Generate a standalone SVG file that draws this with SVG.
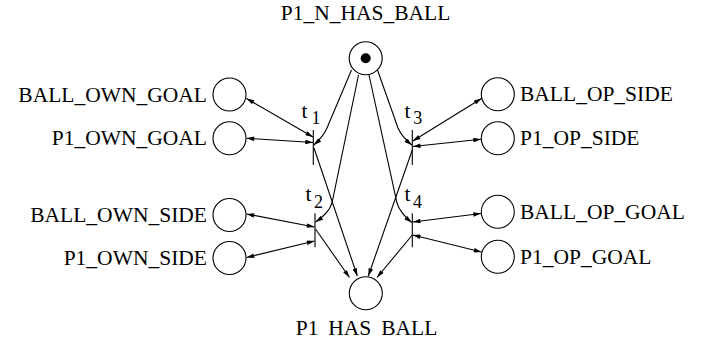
<svg xmlns="http://www.w3.org/2000/svg" width="708" height="352" viewBox="0 0 708 352">
<style>
text{font-family:"Liberation Serif","Times New Roman",serif;font-size:21.5px;fill:#000}
.sub{font-size:18px}
.pl{fill:#fff;stroke:#000;stroke-width:1.1}
.bar{stroke:#000;stroke-width:1.1}
.arc{fill:none;stroke:#000;stroke-width:1.1}
.l{text-anchor:end}
.c{text-anchor:middle}
</style>
<defs>
<marker id="ah" viewBox="0 0 10 6" refX="10" refY="3" markerWidth="9" markerHeight="4.6" markerUnits="userSpaceOnUse" orient="auto-start-reverse">
<path d="M0,0 L10,3 L0,6 z" fill="#000"/>
</marker>
</defs>
<rect width="708" height="352" fill="#fff"/>
<g id="connectors">
<path class="arc" marker-end="url(#ah)" d="M351.5 70 L327 128 Q323 137 313.8 145"/>
<path class="arc" marker-end="url(#ah)" d="M358.5 75 L332 203 Q329 213 315.5 222"/>
<path class="arc" marker-end="url(#ah)" d="M377.5 70 L398 128 Q402 137 411.8 145"/>
<path class="arc" marker-end="url(#ah)" d="M369 75 L397 203 Q400 213 411.8 222.5"/>
<path class="arc" marker-end="url(#ah)" d="M314 148 L357.3 276"/>
<path class="arc" marker-end="url(#ah)" d="M315.5 229 L349.5 277.5"/>
<path class="arc" marker-end="url(#ah)" d="M412.3 150 L368.3 276"/>
<path class="arc" marker-end="url(#ah)" d="M412.3 235 L377 277.5"/>
<path class="arc" marker-start="url(#ah)" marker-end="url(#ah)" d="M246.5 98.5 L313 137"/>
<path class="arc" marker-start="url(#ah)" marker-end="url(#ah)" d="M246.5 138.3 L313 142.5"/>
<path class="arc" marker-start="url(#ah)" marker-end="url(#ah)" d="M246.5 214 L314.5 227"/>
<path class="arc" marker-start="url(#ah)" marker-end="url(#ah)" d="M246.5 257.5 L314.5 241"/>
<path class="arc" marker-start="url(#ah)" marker-end="url(#ah)" d="M481.5 98.5 L412.8 141"/>
<path class="arc" marker-start="url(#ah)" marker-end="url(#ah)" d="M481 139.3 L412.8 146.5"/>
<path class="arc" marker-start="url(#ah)" marker-end="url(#ah)" d="M481 213.5 L412.8 222"/>
<path class="arc" marker-start="url(#ah)" marker-end="url(#ah)" d="M481.5 252 L412.8 235"/>
</g>
<g id="P1_N_HAS_BALL">
<circle class="pl" cx="365.7" cy="58.3" r="16.5"/>
<circle cx="365.7" cy="58.3" r="5" fill="#000"/>
<text class="c" x="365.5" y="20">P1_N_HAS_BALL</text>
</g>
<g id="P1_HAS_BALL">
<circle class="pl" cx="365.8" cy="293.3" r="16.5"/>
<text class="c" x="366.5" y="335" word-spacing="4.5">P1 HAS BALL</text>
</g>
<g id="BALL_OWN_GOAL">
<circle class="pl" cx="229.5" cy="94.5" r="16.5"/>
<text class="l" x="207" y="101.7">BALL_OWN_GOAL</text>
</g>
<g id="P1_OWN_GOAL">
<circle class="pl" cx="229.5" cy="138.3" r="16.5"/>
<text class="l" x="207" y="145.3">P1_OWN_GOAL</text>
</g>
<g id="BALL_OWN_SIDE">
<circle class="pl" cx="229.5" cy="215" r="16.5"/>
<text class="l" x="207" y="222">BALL_OWN_SIDE</text>
</g>
<g id="P1_OWN_SIDE">
<circle class="pl" cx="229.5" cy="258" r="16.5"/>
<text class="l" x="207" y="265">P1_OWN_SIDE</text>
</g>
<g id="BALL_OP_SIDE">
<circle class="pl" cx="497.8" cy="94.3" r="16.5"/>
<text x="520" y="101.3">BALL_OP_SIDE</text>
</g>
<g id="P1_OP_SIDE">
<circle class="pl" cx="497.8" cy="138.3" r="16.5"/>
<text x="520" y="145.3">P1_OP_SIDE</text>
</g>
<g id="BALL_OP_GOAL">
<circle class="pl" cx="497.8" cy="211.7" r="16.5"/>
<text x="520" y="218.7">BALL_OP_GOAL</text>
</g>
<g id="P1_OP_GOAL">
<circle class="pl" cx="497.8" cy="256.7" r="16.5"/>
<text x="520" y="263.7">P1_OP_GOAL</text>
</g>
<g id="t1">
<line class="bar" x1="313.3" y1="130" x2="313.3" y2="165"/>
<text x="301.5" y="117.7">t</text><text class="sub" x="311.5" y="124.3">1</text>
</g>
<g id="t2">
<line class="bar" x1="315" y1="213.3" x2="315" y2="247.3"/>
<text x="305.5" y="200.7">t</text><text class="sub" x="314" y="208.3">2</text>
</g>
<g id="t3">
<line class="bar" x1="412.3" y1="130" x2="412.3" y2="165"/>
<text x="404.5" y="117.7">t</text><text class="sub" x="413.3" y="124.3">3</text>
</g>
<g id="t4">
<line class="bar" x1="412.3" y1="213.3" x2="412.3" y2="247.3"/>
<text x="404.5" y="200.7">t</text><text class="sub" x="413" y="208.3">4</text>
</g>
</svg>
